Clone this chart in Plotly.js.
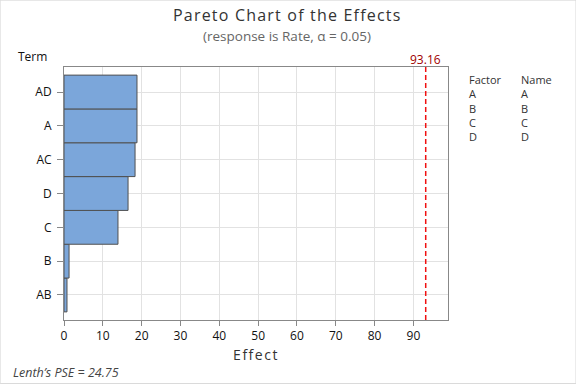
<!DOCTYPE html>
<html><head><meta charset="utf-8">
<script src="https://cdn.plot.ly/plotly-3.0.1.min.js"></script>
<style>html,body{margin:0;padding:0;background:#fff}#c{width:576px;height:384px}</style>
</head><body><div id="c"></div>
<script>
const terms = ['AB','B','C','D','AC','A','AD'];
const effects = [0.77, 1.3, 13.9, 16.5, 18.3, 18.8, 18.8];
const criticalValue = 93.16;
const xTicks = [0,10,20,30,40,50,60,70,80,90];
const factors = ['A','B','C','D'];
const names = ['A','B','C','D'];
const lenthPSE = 24.75;

const font = 'Open Sans, Noto Sans, sans-serif';
const L = 64.3, R = 447.7, T = 67.3, B = 320;
const W = R - L, H = B - T;
const px = x => (x - L) / W;
const py = y => 1 - (y - T) / H;

const trace = {
  type:'bar', orientation:'h', y: terms, x: effects, width: 1,
  marker:{color:'#7BA6DA', line:{color:'#505050', width:1}},
  hoverinfo:'none'
};
const annotations = [
  {text:'<span style="letter-spacing:1.2px">Pareto Chart of the Effects</span>', xref:'paper', yref:'paper',
   x:px(287), y:py(15.5), xanchor:'center', yanchor:'middle', showarrow:false,
   font:{size:16, color:'#333'}},
  {text:'(response is Rate, α = 0.05)', xref:'paper', yref:'paper',
   x:px(287), y:py(36.5), xanchor:'center', yanchor:'middle', showarrow:false,
   font:{size:13.5, color:'#666'}},
  {text:'Term', xref:'paper', yref:'paper', x:px(33), y:py(57),
   xanchor:'center', yanchor:'middle', showarrow:false, font:{size:12, color:'#111'}},
  {text:String(criticalValue), xref:'x', yref:'paper', x:criticalValue, y:py(60),
   xanchor:'center', yanchor:'middle', showarrow:false, font:{size:12, color:'#A00000'}},
  {text:'<i>Lenth\u2019s PSE = ' + lenthPSE + '</i>', xref:'paper', yref:'paper', x:px(11),
   y:py(372), xanchor:'left', yanchor:'middle', showarrow:false, font:{size:12.5, color:'#444'}},
  {text:['Factor'].concat(factors).join('<br>'), xref:'paper', yref:'paper', x:px(467), y:py(70),
   xanchor:'left', yanchor:'top', align:'left', showarrow:false, font:{size:11, color:'#333'}},
  {text:['Name'].concat(names).join('<br>'), xref:'paper', yref:'paper', x:px(519), y:py(70),
   xanchor:'left', yanchor:'top', align:'left', showarrow:false, font:{size:11, color:'#333'}}
];

const layout = {
  width:576, height:384,
  margin:{l:L, r:576-R, t:T, b:384-B},
  paper_bgcolor:'#fff', plot_bgcolor:'#fff',
  showlegend:false,
  font:{family:font, size:12, color:'#111'},
  xaxis:{range:[0,98.9], tickvals:xTicks, ticks:'outside', ticklen:5, tickcolor:'#888',
    showgrid:true, gridcolor:'#e2e2e2', zeroline:false, showline:true, linecolor:'#888', mirror:true,
    tickfont:{size:12, color:'#111'},
    title:{text:'<span style="letter-spacing:1.5px">Effect</span>', font:{size:14, color:'#333'}, standoff:6}},
  yaxis:{type:'category', categoryarray:terms, range:[-0.74,6.74], ticks:'outside', ticklen:6, tickcolor:'#888',
    showgrid:true, gridcolor:'#e2e2e2', zeroline:false, showline:true, linecolor:'#888', mirror:true,
    tickfont:{size:12, color:'#111'}, ticklabelstandoff:3},
  shapes:[
    {type:'line', xref:'x', yref:'paper', x0:criticalValue, x1:criticalValue, y0:0, y1:1,
     line:{color:'#F01010', width:1.5, dash:'5px,3px'}},
    {type:'rect', xref:'paper', yref:'paper', x0:px(0.5), x1:px(575.5), y0:py(383.5), y1:py(0.5),
     line:{color:'#d8d8d8', width:1}}
  ],
  annotations: annotations
};
Plotly.newPlot('c',[trace],layout,{staticPlot:true, displayModeBar:false});
</script></body></html>
